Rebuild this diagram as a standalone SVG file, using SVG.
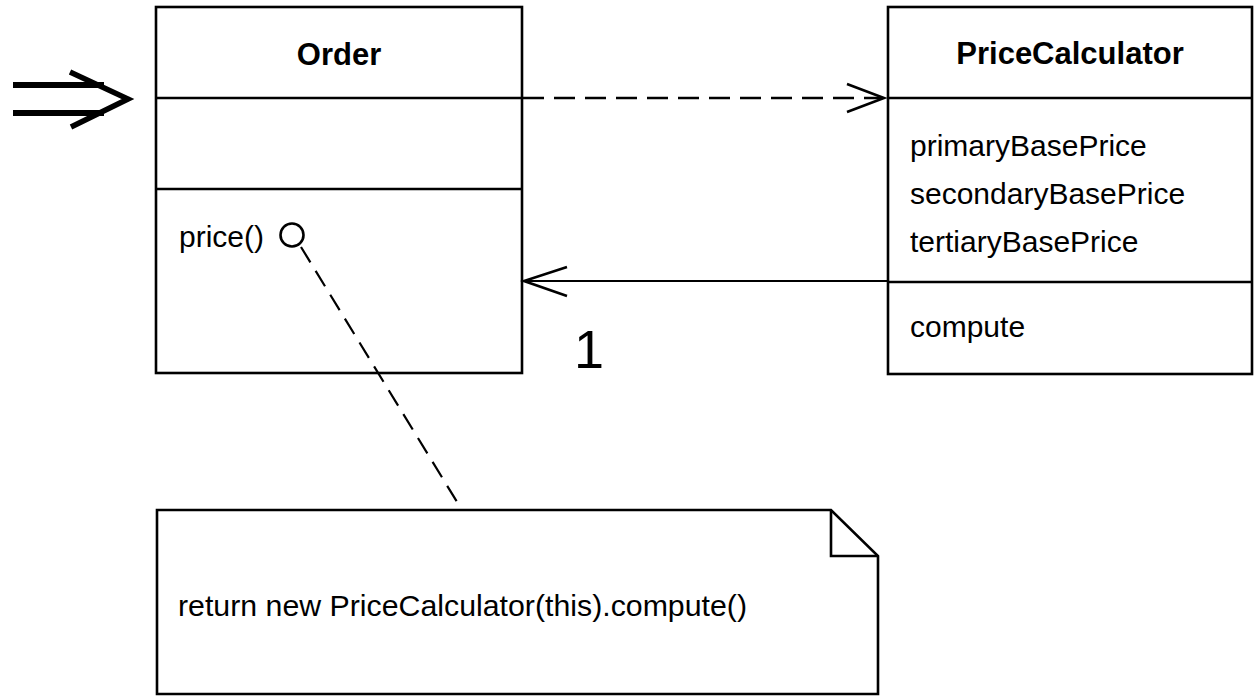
<svg xmlns="http://www.w3.org/2000/svg" width="1257" height="696" viewBox="0 0 1257 696">
  <style>
    .box { fill: #fff; stroke: #000; stroke-width: 2.6; }
    .rule { stroke: #000; stroke-width: 2.6; fill: none; }
    .title { font-family: "Liberation Sans", Arial, sans-serif; font-weight: bold; font-size: 31px; fill: #000; text-anchor: middle; }
    .item { font-family: "Liberation Sans", Arial, sans-serif; font-size: 30px; fill: #000; }
    .dep { stroke: #000; stroke-width: 2.6; fill: none; stroke-dasharray: 21 10; }
    .assoc { stroke: #000; stroke-width: 2.2; fill: none; }
    .anchor { stroke: #000; stroke-width: 2.2; fill: none; stroke-dasharray: 18 10; }
    .head { stroke: #000; stroke-width: 2.6; fill: none; stroke-linejoin: miter; }
  </style>

  <!-- refactoring arrow at the left edge -->
  <g id="transform-arrow" fill="none" stroke="#000" stroke-width="6">
    <line x1="13" y1="85" x2="104" y2="85"/>
    <line x1="13" y1="113" x2="104" y2="113"/>
    <polyline points="70,72 128,99 71,127" stroke-width="5.5"/>
  </g>

  <!-- Order class -->
  <g id="order">
    <rect class="box" x="156" y="7" width="366" height="366"/>
    <line class="rule" x1="156" y1="98" x2="522" y2="98"/>
    <line class="rule" x1="156" y1="189" x2="522" y2="189"/>
    <text class="title" x="339" y="65">Order</text>
    <text class="item" x="179" y="247">price()</text>
    <circle cx="292" cy="235" r="11.5" fill="#fff" stroke="#000" stroke-width="2.6"/>
  </g>

  <!-- PriceCalculator class -->
  <g id="price-calculator">
    <rect class="box" x="888" y="7" width="364" height="367"/>
    <line class="rule" x1="888" y1="98" x2="1252" y2="98"/>
    <line class="rule" x1="888" y1="282" x2="1252" y2="282"/>
    <text class="title" x="1070" y="64">PriceCalculator</text>
    <text class="item" x="910" y="156">primaryBasePrice</text>
    <text class="item" x="910" y="204">secondaryBasePrice</text>
    <text class="item" x="910" y="252">tertiaryBasePrice</text>
    <text class="item" x="910" y="337">compute</text>
  </g>

  <!-- note attached to price() -->
  <g id="note">
    <path class="box" d="M157,510 L831,510 L878,556 L878,694 L157,694 Z"/>
    <polyline class="rule" points="831,510 831,556 878,556"/>
    <text class="item" x="178" y="616" textLength="569" lengthAdjust="spacingAndGlyphs">return new PriceCalculator(this).compute()</text>
  </g>

  <!-- connectors -->
  <g id="connectors">
    <!-- dependency Order -> PriceCalculator -->
    <line class="dep" x1="523" y1="98" x2="882" y2="98"/>
    <polyline class="head" points="847,84 884,98 847,112"/>
    <!-- association PriceCalculator -> Order -->
    <line class="assoc" x1="888" y1="281" x2="524" y2="281"/>
    <polyline class="head" points="567,267 524,281 567,296"/>
    <text class="item" x="589" y="368" font-size="54" style="font-size:54px" text-anchor="middle">1</text>
    <!-- note anchor -->
    <line class="anchor" x1="301" y1="247" x2="462" y2="510"/>
  </g>
</svg>
